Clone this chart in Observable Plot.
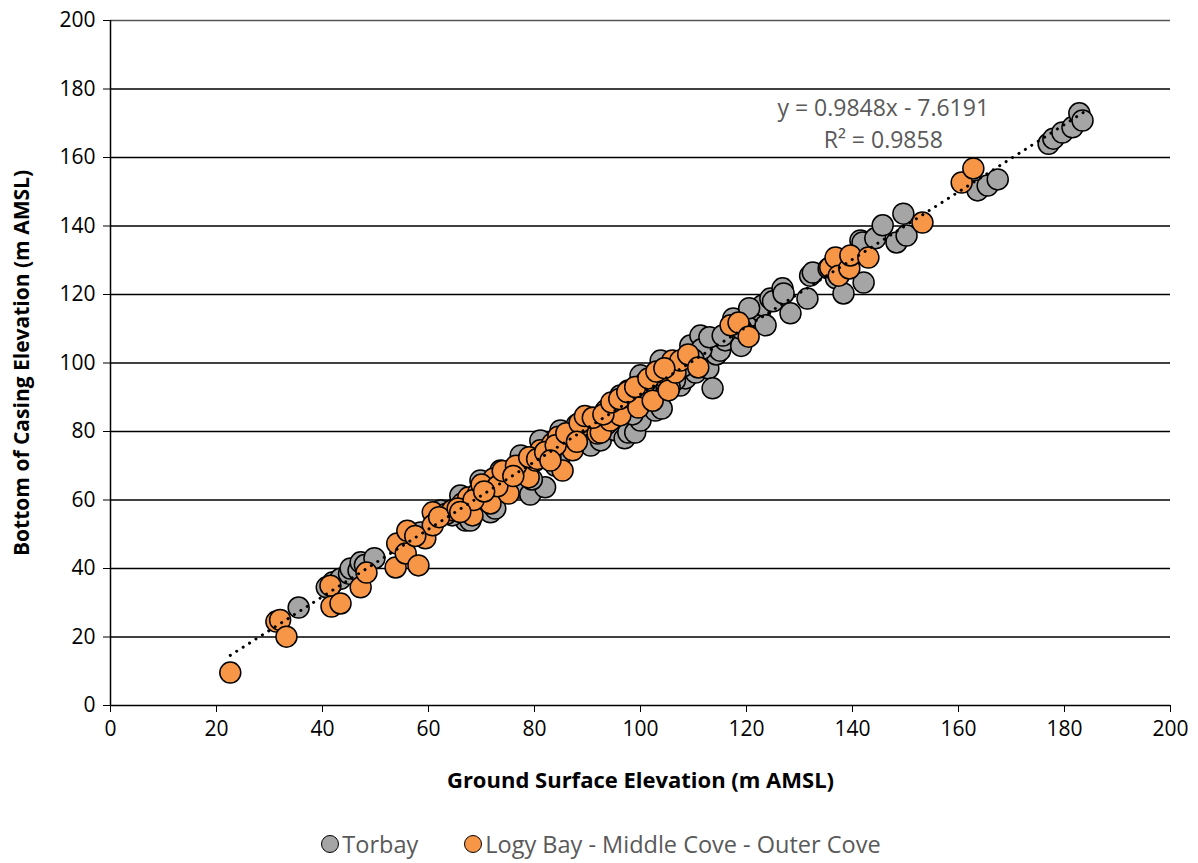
<!DOCTYPE html>
<html><head><meta charset="utf-8">
<script src="https://cdn.jsdelivr.net/npm/d3@7"></script>
<script src="https://cdn.jsdelivr.net/npm/@observablehq/plot@0.6"></script>
<style>
body{margin:0;background:#fff;font-family:"Open Sans",sans-serif;}
#legend{display:flex;justify-content:center;gap:46px;margin-top:28px;font-size:23.5px;color:#595959;font-family:"Open Sans",sans-serif;padding-left:4px;}
#legend span{display:flex;align-items:center;gap:3px;}
#legend i{display:inline-block;width:18px;height:18px;border-radius:50%;border:1.5px solid #000;box-sizing:border-box;}
</style></head><body>
<div id="chart"></div>
<div id="legend"></div>
<script>
const seriesNames = ["Torbay", "Logy Bay - Middle Cove - Outer Cove"];
const seriesColors = ["#a5a5a5", "#f79646"];

// Torbay: ground surface elevation (x) and bottom of casing elevation (y)
const torbayX = [35.5,40.8,42.0,43.4,45.0,45.3,46.8,47.2,48.0,49.8,62.3,66.0,67.0,67.9,69.8,69.8,71.7,72.6,73.6,76.4,77.4,77.4,79.2,81.1,82.0,84.0,84.9,84.9,90.6,92.5,95.3,96.2,97.0,97.7,99.0,100.0,100.0,102.8,103.8,103.8,104.0,107.5,108.5,109.4,110.4,111.3,112.3,112.8,113.6,114.3,115.0,116.0,118.8,119.0,119.8,121.1,122.6,123.0,123.6,124.5,125.0,126.8,127.0,128.3,131.5,132.0,132.5,135.5,136.9,138.3,138.9,141.5,142.1,141.9,144.3,145.7,148.3,149.6,150.2,163.6,165.5,167.4,177.0,177.9,179.6,181.5,182.8,183.4,
  74.0,79.5,83.0,86.5,88.0,91.0,94.0,98.5,101.5,105.0,106.5,108.0,111.5,113.0,117.5,120.5,64.5,58.5,87.5,93.5,96.5,101.0,105.5,110.0,115.5,119.0];
const torbayY = [28.6,34.5,36.0,37.0,38.5,40.0,39.4,41.8,41.0,43.0,56.9,61.3,54.0,54.0,58.4,65.7,56.4,57.5,68.6,65.7,63.6,73.0,61.6,77.4,63.7,70.0,73.0,80.3,75.9,77.4,80.3,90.5,78.0,79.7,79.7,83.2,96.4,86.1,90.5,100.7,86.7,93.4,95.5,105.1,97.2,108.0,103.6,98.4,92.6,102.5,103.6,106.6,111.0,105.0,112.4,113.9,115.3,116.8,111.0,118.8,118.0,121.8,120.3,114.5,118.8,125.5,126.4,127.6,124.7,120.3,129.3,135.8,123.5,135.2,136.4,140.2,135.2,143.6,137.2,150.4,151.8,153.6,164.0,165.5,167.3,168.8,172.9,170.8,
  63.5,66.0,72.5,77.0,82.0,84.0,86.5,85.0,91.0,98.5,95.0,99.0,104.0,107.5,113.0,116.0,55.5,50.5,78.5,82.0,87.5,92.5,93.0,101.0,108.0,110.0];

// Logy Bay - Middle Cove - Outer Cove
const logyX = [22.6,31.3,32.0,33.2,41.5,41.7,43.4,47.2,48.3,53.8,54.1,55.7,56.0,58.1,59.4,60.8,60.8,63.4,64.5,66.4,67.5,68.3,69.4,71.3,71.7,72.3,74.5,75.1,75.8,77.4,78.3,78.9,80.2,81.1,82.6,83.4,85.3,84.5,87.2,87.7,89.0,90.6,91.9,93.4,92.5,94.3,95.3,96.2,97.7,99.6,100.9,102.3,103.8,105.3,106.0,106.6,107.5,109.0,110.9,117.0,118.5,120.4,135.8,136.8,137.4,139.4,139.6,143.0,153.2,160.6,162.8,
  57.5,62.0,65.5,68.5,70.0,73.0,74.0,76.5,79.0,80.5,82.0,84.0,86.0,88.5,89.5,91.0,93.0,94.5,96.0,97.5,99.0,101.5,103.0,104.5,66.0,70.5,76.0,83.0,88.0];
const logyY = [9.6,24.5,25.0,20.1,35.0,28.9,29.8,34.5,38.8,40.3,47.3,44.4,51.0,40.9,48.8,56.4,52.6,56.0,57.0,59.0,60.7,55.5,62.2,63.4,59.0,66.3,65.7,61.9,68.6,68.6,70.7,66.6,71.5,74.5,73.0,76.5,68.6,78.5,74.5,79.4,81.8,83.2,79.4,86.1,79.7,83.2,87.6,84.7,92.0,87.0,94.3,89.0,96.4,92.0,100.7,97.2,100.7,102.5,98.7,111.0,111.8,107.7,127.9,130.8,125.5,127.6,131.4,130.8,141.0,152.7,156.8,
  49.5,55.0,57.5,60.0,64.5,64.0,68.5,70.0,72.5,72.0,74.0,76.0,79.5,82.5,84.5,84.0,85.0,88.5,89.5,91.5,93.0,95.5,97.5,98.5,56.5,62.5,67.0,71.5,77.0];

// Trendline: y = 0.9848x - 7.6191, R² = 0.9858
const trendSlope = 0.9848, trendIntercept = -7.6191;
const trendXExtent = [22.6, 183.6];
const eqText = "y = 0.9848x - 7.6191";
const r2Text = "R² = 0.9858";
const xTicks = d3.range(0, 201, 20);
const yTicks = d3.range(0, 201, 20);

const torbay = torbayX.map((x, i) => ({x, y: torbayY[i]}));
const logy = logyX.map((x, i) => ({x, y: logyY[i]}));
const trend = trendXExtent.map(x => ({x, y: trendSlope * x + trendIntercept}));

const chart = Plot.plot({
  width: 1198, height: 800,
  marginLeft: 110, marginRight: 28, marginTop: 20, marginBottom: 95,
  style: {fontFamily: "'Open Sans', sans-serif", fontSize: "20px", color: "#000", background: "#fff"},
  x: {domain: [0, 200], ticks: xTicks, label: null},
  y: {domain: [0, 200], ticks: yTicks, label: null},
  marks: [
    Plot.ruleY(yTicks.filter(d => d > 0 && d < 200), {stroke: "#000", strokeWidth: 1.3}),
    Plot.ruleY([200], {stroke: "#555", strokeWidth: 1.3}),
    Plot.axisX({ticks: xTicks, tickSize: 7, tickPadding: 9, fontSize: 21, label: null}),
    Plot.axisY({ticks: yTicks, tickSize: 7, tickPadding: 8, fontSize: 21, label: null}),
    Plot.ruleX([0], {stroke: "#000", strokeWidth: 1.5}),
    Plot.ruleY([0], {stroke: "#000", strokeWidth: 1.5}),
    Plot.dot(torbay, {x: "x", y: "y", r: 10.5, fill: seriesColors[0], stroke: "#000", strokeWidth: 1.5}),
    Plot.dot(logy, {x: "x", y: "y", r: 10.5, fill: seriesColors[1], stroke: "#000", strokeWidth: 1.5}),
    Plot.line(trend, {x: "x", y: "y", stroke: "#000", strokeWidth: 3, strokeDasharray: "0.1 7.5", strokeLinecap: "round"}),
    Plot.text([eqText], {x: 145.8, y: 174.2, text: d => d, fill: "#595959", fontSize: 23}),
    Plot.text([r2Text], {x: 145.8, y: 164.8, text: d => d, fill: "#595959", fontSize: 23}),
    Plot.text(["Ground Surface Elevation (m AMSL)"], {x: 100, y: 0, text: d => d, dy: 75, fontWeight: "bold", fontSize: 22, fill: "#000"}),
    Plot.text(["Bottom of Casing Elevation (m AMSL)"], {x: 0, y: 100, text: d => d, dx: -88, rotate: -90, fontWeight: "bold", fontSize: 21, fill: "#000"})
  ]
});
document.getElementById("chart").appendChild(chart);
const leg = document.getElementById("legend");
seriesNames.forEach((n, i) => {
  const s = document.createElement("span");
  s.innerHTML = `<i style="background:${seriesColors[i]}"></i>${n}`;
  leg.appendChild(s);
});
</script>
</body></html>
